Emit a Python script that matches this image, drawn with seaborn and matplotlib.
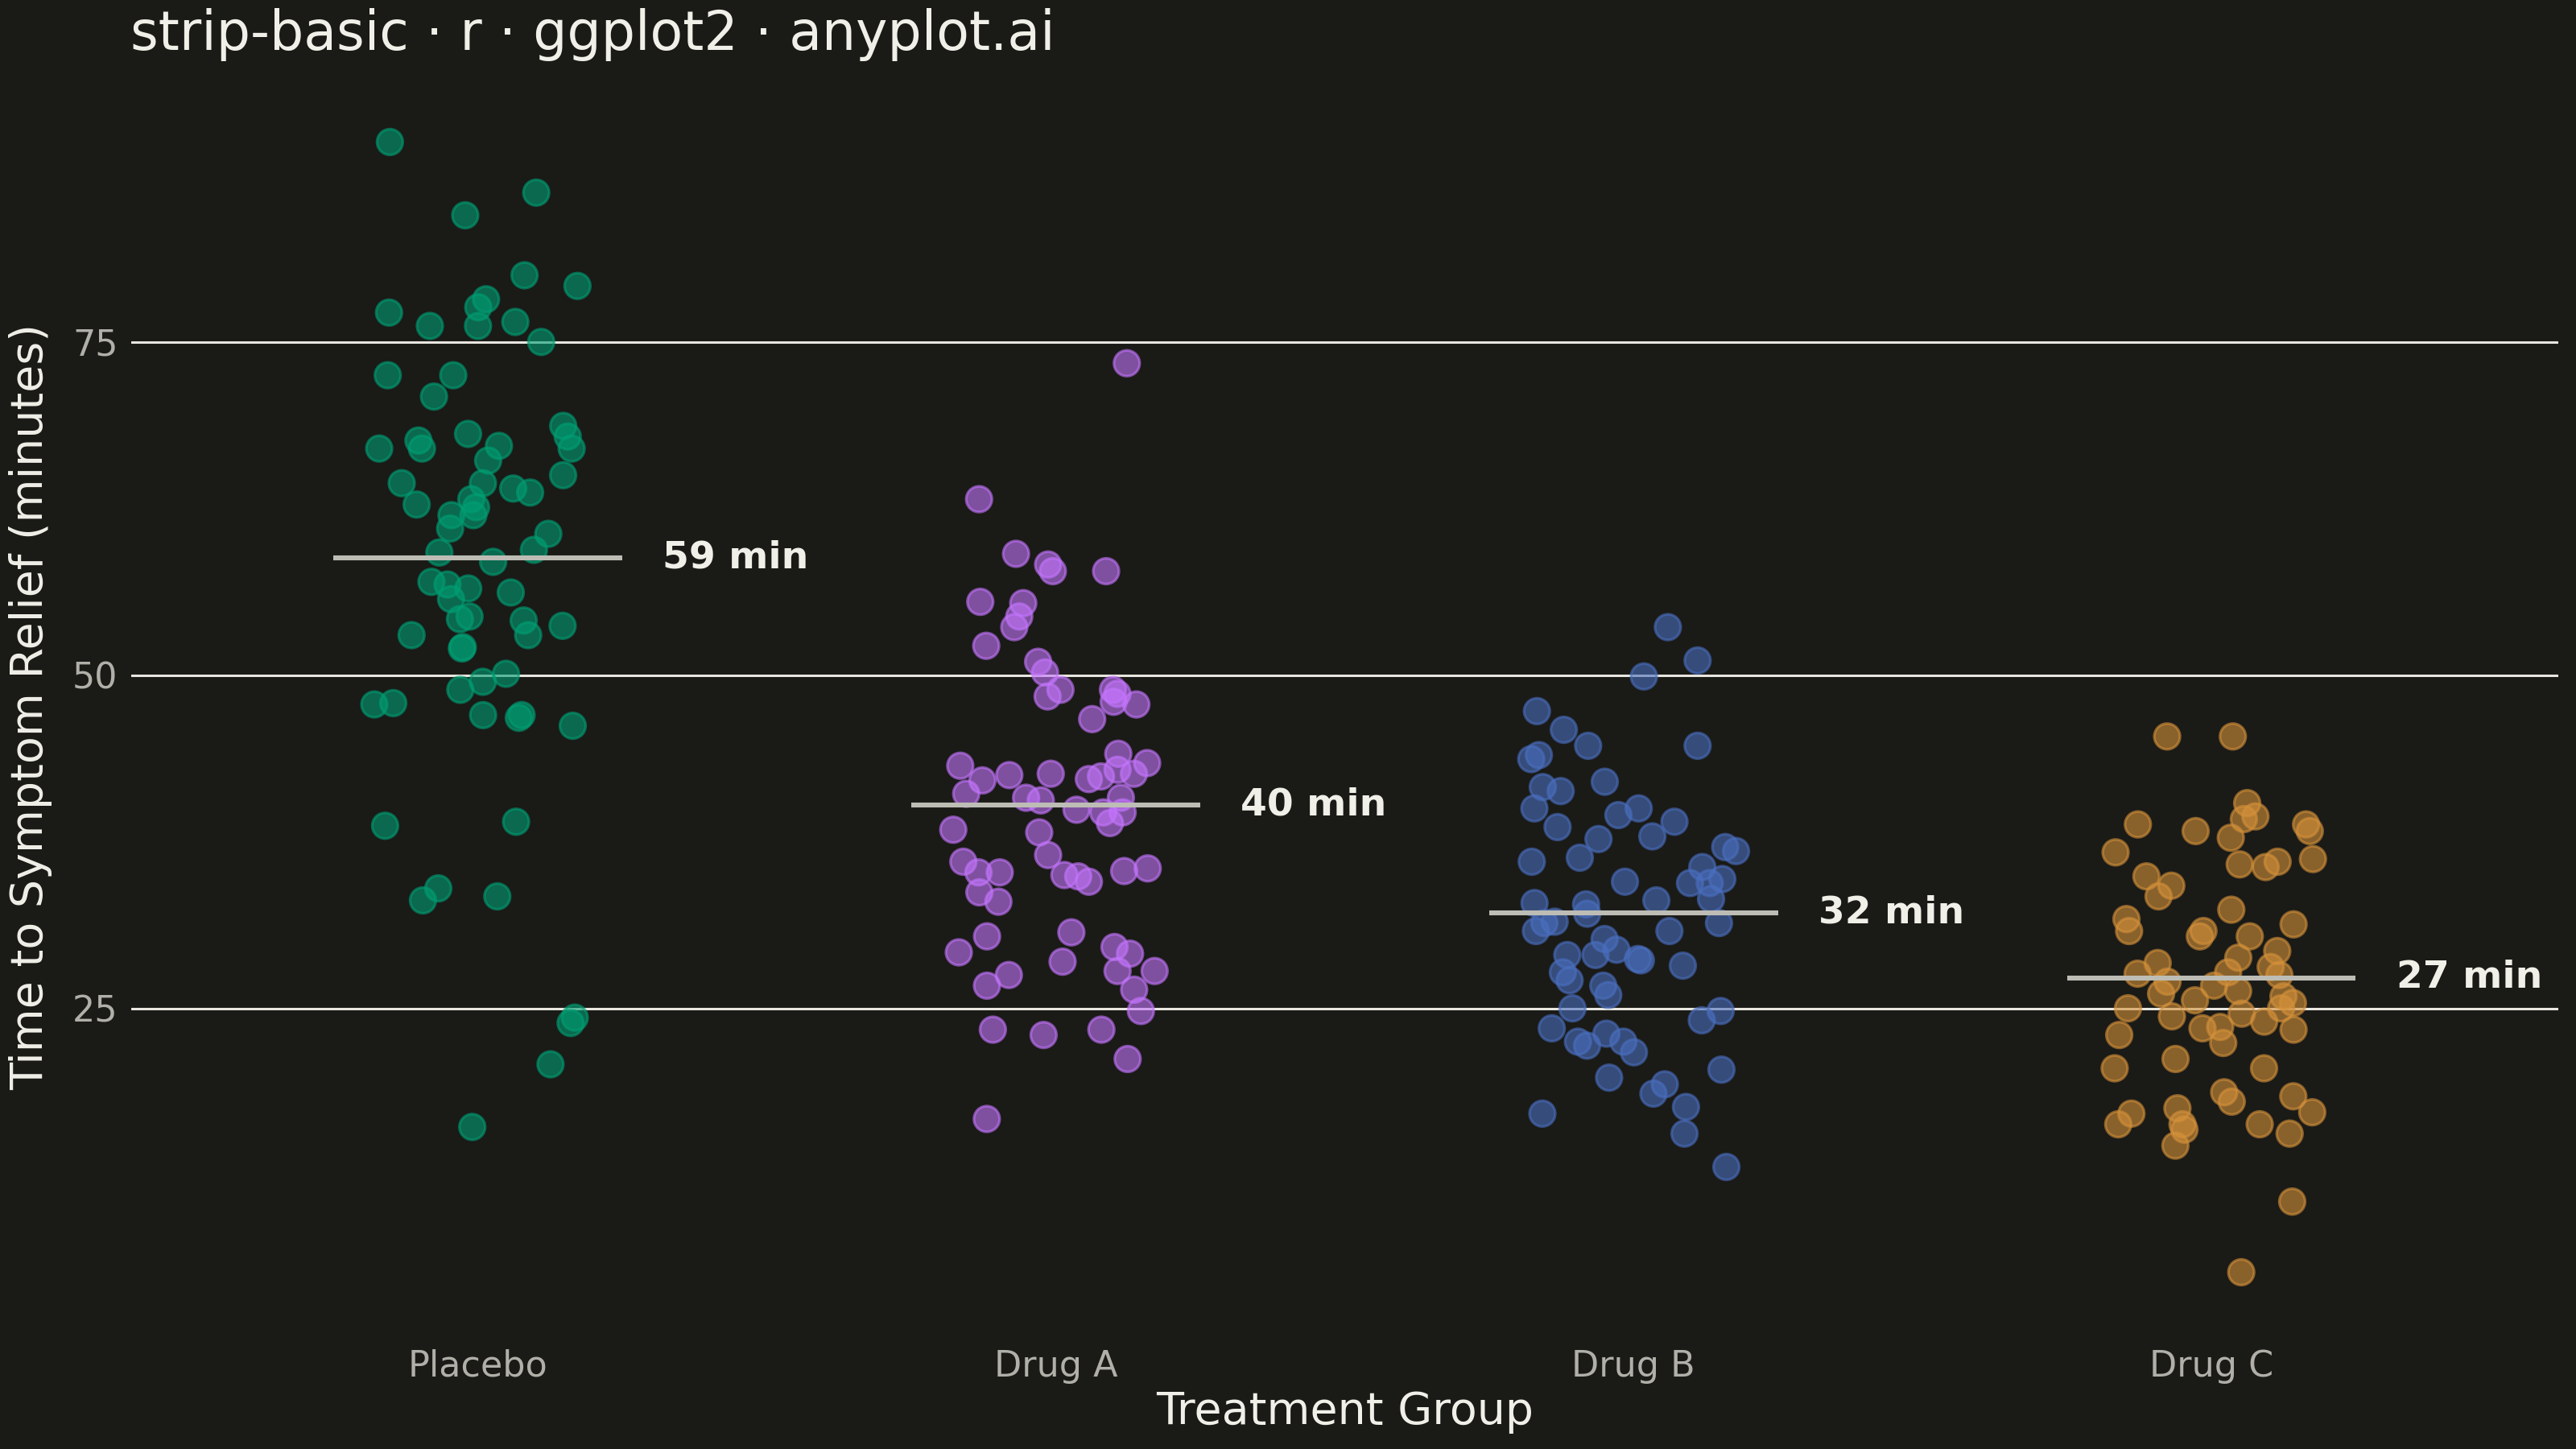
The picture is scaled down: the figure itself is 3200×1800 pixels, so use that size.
import numpy as np
import pandas as pd
import matplotlib
matplotlib.use("Agg")
import matplotlib.pyplot as plt
import seaborn as sns

# Data (minutes to symptom relief)
groups = ["Placebo", "Drug A", "Drug B", "Drug C"]

placebo = [90.0, 86.2, 84.5, 80.0, 79.2, 78.2, 77.6, 77.2, 76.2, 76.2, 76.5, 75.0,
           72.5, 72.5, 70.9, 68.7, 67.6, 68.1, 67.9, 67.0, 67.2, 67.0, 67.0, 66.1,
           65.0, 64.4, 64.4, 63.7, 64.0, 63.2, 62.8, 62.6, 62.0, 62.0, 61.0, 60.6,
           59.4, 59.2, 58.5, 57.0, 56.5, 56.8, 56.2, 55.7, 54.4, 54.1, 54.2, 53.7,
           53.0, 53.0, 52.0, 52.1, 50.1, 49.5, 48.9, 47.8, 47.9, 47.0, 47.0, 46.8,
           46.2, 39.0, 38.7, 34.0, 33.4, 33.1, 24.3, 23.9, 20.8, 16.1]
drug_a = [73.4, 63.2, 59.1, 58.3, 57.8, 57.8, 55.5, 55.4, 54.4, 53.6, 52.2, 51.0,
          50.2, 48.9, 48.6, 48.9, 48.4, 48.0, 47.8, 46.7, 44.1, 43.4, 43.2, 42.6,
          42.5, 42.6, 42.9, 42.4, 42.1, 42.2, 41.1, 40.8, 40.8, 40.6, 39.9, 39.7,
          39.7, 38.9, 38.4, 38.2, 36.5, 36.0, 35.0, 34.9, 35.3, 35.5, 35.2, 35.2,
          34.5, 33.7, 33.0, 30.7, 30.4, 29.6, 29.1, 29.2, 28.5, 27.8, 27.8, 27.5,
          26.7, 26.4, 24.8, 23.4, 23.0, 23.4, 21.2, 16.7]
drug_b = [53.6, 51.1, 49.9, 45.9, 47.3, 44.7, 44.7, 44.0, 43.7, 42.0, 41.6, 41.3,
          40.0, 40.0, 39.0, 39.5, 38.6, 37.7, 37.9, 37.1, 36.8, 36.3, 36.0, 35.6,
          34.7, 34.5, 34.4, 34.4, 33.1, 33.2, 32.9, 32.8, 32.1, 31.5, 31.4, 30.8,
          30.8, 31.4, 30.2, 29.4, 29.0, 28.7, 28.6, 29.0, 28.2, 27.7, 27.1, 26.7,
          26.0, 25.0, 24.8, 24.1, 23.5, 23.1, 22.5, 22.5, 22.2, 21.7, 20.4, 19.8,
          19.3, 18.6, 17.6, 17.1, 15.6, 13.1]
drug_c = [45.4, 45.4, 40.4, 39.4, 39.2, 38.8, 38.3, 38.8, 38.3, 37.8, 36.7, 36.2,
          36.0, 35.8, 35.6, 34.9, 34.2, 33.4, 32.4, 31.7, 31.3, 30.8, 30.4, 30.8,
          30.4, 29.3, 28.8, 28.4, 28.1, 27.6, 27.5, 27.7, 27.0, 26.7, 26.3, 26.1,
          25.9, 25.6, 25.4, 25.0, 25.0, 24.6, 24.4, 24.0, 23.6, 23.5, 23.4, 23.0,
          22.4, 21.2, 20.5, 20.5, 18.7, 18.4, 18.0, 17.5, 17.2, 17.1, 16.3, 16.3,
          15.9, 16.3, 15.6, 14.7, 10.5, 5.2]

palette = ["#009E73", "#C475FD", "#4A6FBF", "#D4913A"]

BG = "#1A1A17"
INK = "#F0EFE8"
MUTED = "#B0AFA8"

df = pd.DataFrame({
    "group": (["Placebo"] * len(placebo) + ["Drug A"] * len(drug_a)
              + ["Drug B"] * len(drug_b) + ["Drug C"] * len(drug_c)),
    "time": placebo + drug_a + drug_b + drug_c,
})
df["group"] = pd.Categorical(df["group"], categories=groups, ordered=True)
means = df.groupby("group", observed=True)["time"].mean()

sns.set_style("dark")
plt.rcParams["font.family"] = ["DejaVu Sans"]

fig = plt.figure(figsize=(16, 9), dpi=200, facecolor=BG)
ax = fig.add_axes([0.051, 0.083, 0.942, 0.858])
ax.set_facecolor(BG)

np.random.seed(7)
sns.stripplot(data=df, x="group", y="time", hue="group", order=groups,
              hue_order=groups, palette=palette, jitter=0.18, size=11.5,
              alpha=0.6, linewidth=1.2, legend=False, ax=ax, zorder=3)
for coll, col in zip(ax.collections, palette):
    coll.set_edgecolor(col)

# mean markers and labels
for i, g in enumerate(groups):
    m = means[g]
    ax.hlines(m, i - 0.25, i + 0.25, color="#BDBDB5", linewidth=2.2, zorder=4)
    ax.text(i + 0.32, m, f"{m:.0f} min", color=INK, fontsize=17,
            fontweight="bold", va="center", ha="left", zorder=5)

lo, hi = df["time"].min(), df["time"].max()
pad = (hi - lo) * 0.05
ax.set_ylim(lo - pad, hi + pad)
ax.set_xlim(-0.6, 3.6)
ax.set_yticks([25, 50, 75])
ax.grid(axis="y", color="#E8E6DE", linewidth=1.1, zorder=0)
ax.grid(axis="x", visible=False)
ax.set_axisbelow(True)
for s in ax.spines.values():
    s.set_visible(False)
ax.tick_params(axis="both", length=0, colors=MUTED, labelsize=16)
ax.tick_params(axis="x", pad=9)
ax.tick_params(axis="y", pad=6)

ax.set_xlabel("Treatment Group", fontsize=20, color=INK, labelpad=3)
ax.set_ylabel("Time to Symptom Relief (minutes)", fontsize=20, color=INK, labelpad=9)

fig.text(0.0505, 0.976, "strip-basic · r · ggplot2 · anyplot.ai", fontsize=24,
         color=INK, ha="left", va="center")

fig.savefig("out.png", dpi=200, facecolor=BG)
